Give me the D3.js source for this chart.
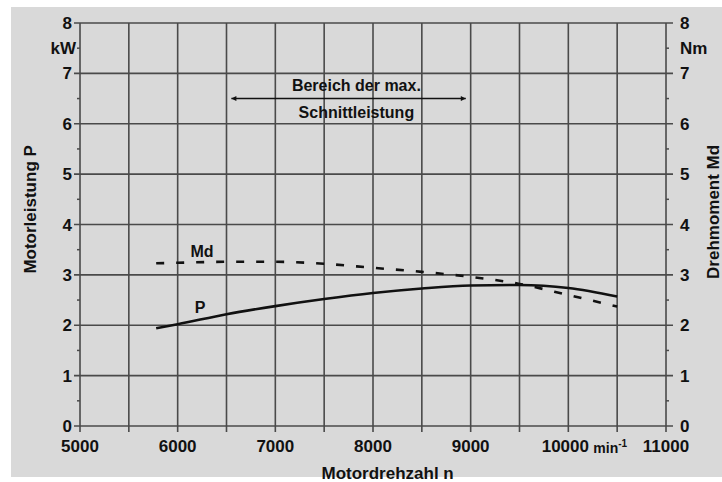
<!DOCTYPE html>
<html>
<head>
<meta charset="utf-8">
<script src="https://cdn.jsdelivr.net/npm/d3@7"></script>
<style>
  body { margin: 0; background: #fff; }
  svg text { font-family: "Liberation Sans", Arial, sans-serif; font-weight: bold; fill: #111; }
</style>
</head>
<body>
<div id="chart"></div>
<script>
// Data
const rpm = [5780, 6000, 6500, 7000, 7500, 8000, 8500, 9000, 9500, 10000, 10500];
const powerP = [1.94, 2.02, 2.22, 2.38, 2.52, 2.64, 2.73, 2.79, 2.80, 2.74, 2.57];
const torqueMd = [3.23, 3.24, 3.26, 3.26, 3.22, 3.14, 3.06, 2.96, 2.82, 2.60, 2.37];

const xTicks = [5000, 6000, 7000, 8000, 9000, 10000, 11000];
const yTicks = [0, 1, 2, 3, 4, 5, 6, 7, 8];
const rangeArrow = [6550, 8950];
const rangeArrowY = 6.5;
const rangeText = ["Bereich der max.", "Schnittleistung"];

const width = 722, height = 482;
const margin = { left: 80, right: 56, top: 23, bottom: 56 };
const gridColor = "#4a4a4a";

const svg = d3.select("#chart")
  .append("svg")
  .attr("width", width)
  .attr("height", height);

// gray panel
svg.append("rect")
  .attr("x", 11).attr("y", 7)
  .attr("width", width - 11).attr("height", 470)
  .attr("fill", "#d9d9d9");

const x = d3.scaleLinear()
  .domain([5000, 11000])
  .range([margin.left, width - margin.right]);

const y = d3.scaleLinear()
  .domain([0, 8])
  .range([height - margin.bottom, margin.top]);

const g = svg.append("g");

// vertical grid every 500
const xGrid = d3.range(5000, 11001, 500);
g.selectAll(".vgrid")
  .data(xGrid)
  .enter()
  .append("line")
  .attr("x1", d => x(d)).attr("x2", d => x(d))
  .attr("y1", y(8)).attr("y2", y(0) + 6)
  .attr("stroke", gridColor)
  .attr("stroke-width", 1.6);

// horizontal grid every 1
g.selectAll(".hgrid")
  .data(yTicks)
  .enter()
  .append("line")
  .attr("x1", x(5000) - 6).attr("x2", x(11000) + 7)
  .attr("y1", d => y(d)).attr("y2", d => y(d))
  .attr("stroke", gridColor)
  .attr("stroke-width", 1.6);

// minor ticks at half values
const halfTicks = d3.range(0.5, 8, 1);
g.selectAll(".minorL")
  .data(halfTicks)
  .enter()
  .append("line")
  .attr("x1", x(5000) - 3).attr("x2", x(5000))
  .attr("y1", d => y(d)).attr("y2", d => y(d))
  .attr("stroke", gridColor).attr("stroke-width", 1.5);
g.selectAll(".minorR")
  .data(halfTicks)
  .enter()
  .append("line")
  .attr("x1", x(11000)).attr("x2", x(11000) + 3)
  .attr("y1", d => y(d)).attr("y2", d => y(d))
  .attr("stroke", gridColor).attr("stroke-width", 1.5);

// tick labels
const fs = 17;
g.selectAll(".xlab")
  .data(xTicks)
  .enter()
  .append("text")
  .attr("x", d => x(d) + (d === 10000 ? -3 : 0))
  .attr("y", y(0) + 26)
  .attr("text-anchor", "middle")
  .attr("font-size", fs)
  .text(d => d);

g.append("text")
  .attr("x", x(10000) + 25)
  .attr("y", y(0) + 27)
  .attr("font-size", 14)
  .text("min")
  .append("tspan")
  .attr("dy", -6)
  .attr("font-size", 10)
  .text("-1");

g.selectAll(".ylabL")
  .data(yTicks)
  .enter()
  .append("text")
  .attr("x", x(5000) - 8)
  .attr("y", d => y(d) + 6)
  .attr("text-anchor", "end")
  .attr("font-size", fs)
  .text(d => d);

g.selectAll(".ylabR")
  .data(yTicks)
  .enter()
  .append("text")
  .attr("x", x(11000) + 14)
  .attr("y", d => y(d) + 6)
  .attr("font-size", fs)
  .text(d => d);

g.append("text")
  .attr("x", x(5000) - 4).attr("y", y(7.5) + 6)
  .attr("text-anchor", "end").attr("font-size", fs)
  .text("kW");
g.append("text")
  .attr("x", x(11000) + 14).attr("y", y(7.5) + 6)
  .attr("font-size", fs)
  .text("Nm");

// axis titles
g.append("text")
  .attr("transform", `translate(36,${y(4.3)}) rotate(-90)`)
  .attr("text-anchor", "middle").attr("font-size", fs)
  .text("Motorleistung  P");
g.append("text")
  .attr("transform", `translate(719,${y(4.25)}) rotate(-90)`)
  .attr("text-anchor", "middle").attr("font-size", fs)
  .text("Drehmoment  Md");
g.append("text")
  .attr("x", x(8150)).attr("y", 479)
  .attr("text-anchor", "middle").attr("font-size", fs)
  .text("Motordrehzahl  n");

// curves
const lineP = d3.line()
  .x((d, i) => x(rpm[i]))
  .y(d => y(d))
  .curve(d3.curveMonotoneX);

g.append("path")
  .attr("d", lineP(powerP))
  .attr("fill", "none")
  .attr("stroke", "#111")
  .attr("stroke-width", 2.6);

g.append("path")
  .attr("d", lineP(torqueMd))
  .attr("fill", "none")
  .attr("stroke", "#111")
  .attr("stroke-width", 2.6)
  .attr("stroke-dasharray", "8,12");

g.append("text")
  .attr("x", x(6250)).attr("y", y(3.47) + 6)
  .attr("text-anchor", "middle").attr("font-size", 16)
  .text("Md");
g.append("text")
  .attr("x", x(6230)).attr("y", y(2.36) + 6)
  .attr("text-anchor", "middle").attr("font-size", 16)
  .text("P");

// range arrow
const defs = svg.append("defs");
defs.append("marker")
  .attr("id", "arr")
  .attr("viewBox", "0 0 10 10")
  .attr("refX", 10).attr("refY", 5)
  .attr("markerWidth", 7).attr("markerHeight", 5)
  .attr("markerUnits", "userSpaceOnUse")
  .attr("orient", "auto-start-reverse")
  .append("path")
  .attr("d", "M0,0L10,5L0,10Z")
  .attr("fill", "#111");

g.append("line")
  .attr("x1", x(rangeArrow[0])).attr("x2", x(rangeArrow[1]))
  .attr("y1", y(rangeArrowY)).attr("y2", y(rangeArrowY))
  .attr("stroke", "#111").attr("stroke-width", 1.5)
  .attr("marker-start", "url(#arr)")
  .attr("marker-end", "url(#arr)");

g.selectAll(".rtext")
  .data(rangeText)
  .enter()
  .append("text")
  .attr("x", x(7830))
  .attr("y", (d, i) => y(rangeArrowY) + (i === 0 ? -8 : 19))
  .attr("text-anchor", "middle")
  .attr("font-size", 16)
  .text(d => d);
</script>
</body>
</html>
